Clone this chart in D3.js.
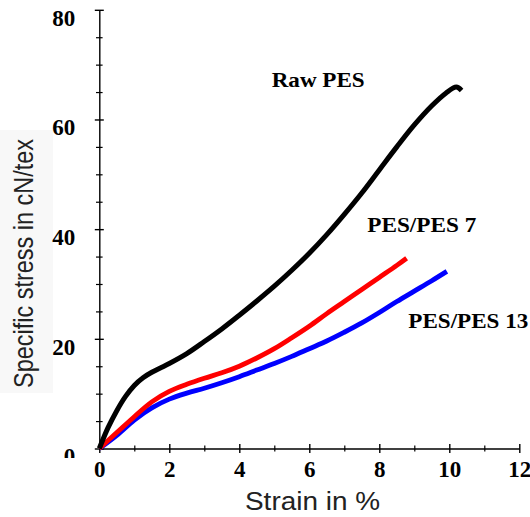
<!DOCTYPE html>
<html>
<head>
<meta charset="utf-8">
<script src="https://cdn.jsdelivr.net/npm/d3@7"></script>
<style>
  html, body { margin: 0; padding: 0; background: #fff; }
  svg { display: block; }
</style>
</head>
<body>
<svg id="chart" width="530" height="517"></svg>
<script>
// ---- data ----
const xMajorTicks = [0, 2, 4, 6, 8, 10, 12];
const xMinorTicks = [1, 3, 5, 7, 9, 11];
const yMajorTicks = [0, 20, 40, 60, 80];
const yMinorTicks = [5, 10, 15, 25, 30, 35, 45, 50, 55, 65, 70, 75];

const seriesNames = ["Raw PES", "PES/PES 7", "PES/PES 13"];

const strainRaw = [0, 0.25, 0.5, 0.75, 1.0, 1.25, 1.5, 2.0, 2.5, 3.0, 3.5, 4.0, 4.5, 5.0, 5.5, 6.0, 6.5, 7.0, 7.5, 8.0, 8.5, 9.0, 9.5, 9.9, 10.2, 10.35];
const stressRaw = [0, 3.8, 6.9, 9.5, 11.5, 12.9, 13.9, 15.5, 17.3, 19.5, 21.8, 24.3, 26.9, 29.6, 32.5, 35.6, 39.0, 42.7, 46.6, 50.8, 55.0, 59.0, 62.5, 64.8, 65.9, 65.3];

const strainPes7 = [0, 0.5, 1.0, 1.5, 2.0, 2.5, 3.0, 3.5, 4.0, 4.5, 5.0, 5.5, 6.0, 6.5, 7.0, 7.5, 8.0, 8.5, 8.78];
const stressPes7 = [0, 2.9, 5.8, 8.5, 10.4, 11.7, 12.8, 13.8, 15.0, 16.5, 18.2, 20.2, 22.3, 24.6, 26.8, 29.0, 31.2, 33.4, 34.7];

const strainPes13 = [0, 0.5, 1.0, 1.5, 2.0, 2.5, 3.0, 3.5, 4.0, 4.5, 5.0, 5.5, 6.0, 6.5, 7.0, 7.5, 8.0, 8.5, 9.0, 9.5, 9.93];
const stressPes13 = [0, 2.4, 5.2, 7.4, 9.0, 10.1, 11.0, 12.0, 13.1, 14.3, 15.5, 16.8, 18.2, 19.6, 21.2, 22.9, 24.8, 26.8, 28.7, 30.6, 32.3];

// ---- chart ----
const svg = d3.select("#chart");
const x = d3.scaleLinear().domain([0, 12]).range([99.3, 519.3]);
const y = d3.scaleLinear().domain([0, 80]).range([448.5, 9.8]);

const serif = "'Liberation Serif', 'Times New Roman', serif";
const sans = "'Liberation Sans', Arial, sans-serif";
const tickFont = 23;

// faint background behind y title
svg.append("rect").attr("x", 0).attr("y", 130).attr("width", 53).attr("height", 263)
  .attr("fill", "#f8f8f8");

const defs = svg.append("defs");
defs.append("clipPath").attr("id", "clipZero")
  .append("rect").attr("x", 40).attr("y", 430).attr("width", 50).attr("height", 28);

// X axis
const gx = svg.append("g").attr("transform", `translate(0,${y(0)})`)
  .call(d3.axisBottom(x).tickValues(xMajorTicks).tickFormat(d3.format("d")).tickSizeOuter(0));
gx.select(".domain").attr("stroke", "#000").attr("stroke-width", 1.4);
gx.selectAll(".tick line").attr("y1", -4.5).attr("y2", 4.5).attr("stroke-width", 1.4);
gx.selectAll(".tick text").attr("y", 28).attr("dy", null)
  .attr("font-family", serif).attr("font-weight", "bold").attr("font-size", tickFont).attr("fill", "#000");

const gxm = svg.append("g").attr("transform", `translate(0,${y(0)})`)
  .call(d3.axisBottom(x).tickValues(xMinorTicks).tickFormat("").tickSizeOuter(0));
gxm.select(".domain").remove();
gxm.selectAll(".tick line").attr("y1", -3).attr("y2", 3).attr("stroke-width", 1.2);

// Y axis
const gy = svg.append("g").attr("transform", `translate(${x(0)},0)`)
  .call(d3.axisLeft(y).tickValues(yMajorTicks).tickFormat(d3.format("d")).tickSizeOuter(0));
gy.select(".domain").attr("stroke", "#000").attr("stroke-width", 1.4);
gy.selectAll(".tick line").attr("x1", -4.5).attr("x2", 4.5).attr("stroke-width", 1.4);
gy.selectAll(".tick text").attr("x", -24).attr("y", 15.5).attr("dy", null)
  .attr("font-family", serif).attr("font-weight", "bold").attr("font-size", tickFont).attr("fill", "#000");

const gym = svg.append("g").attr("transform", `translate(${x(0)},0)`)
  .call(d3.axisLeft(y).tickValues(yMinorTicks).tickFormat("").tickSizeOuter(0));
gym.select(".domain").remove();
gym.selectAll(".tick line").attr("x1", -3.3).attr("x2", 3.3).attr("stroke-width", 1.2);

// the y "0" label is partly hidden in the reference: draw it clipped
const zeroText = gy.selectAll(".tick").filter(d => d === 0).select("text");
const zeroLabel = zeroText.text();
zeroText.remove();
svg.append("g").attr("clip-path", "url(#clipZero)").append("text")
  .attr("x", x(0) - 24).attr("y", y(0) + 15.5)
  .attr("text-anchor", "end")
  .attr("font-family", serif).attr("font-weight", "bold").attr("font-size", tickFont).attr("fill", "#000")
  .text(zeroLabel);

// lines
const line = d3.line().x(d => x(d[0])).y(d => y(d[1])).curve(d3.curveCatmullRom.alpha(0.5));
const series = [
  { name: seriesNames[2], xs: strainPes13, ys: stressPes13, color: "#0000ff", w: 4.8 },
  { name: seriesNames[1], xs: strainPes7, ys: stressPes7, color: "#ff0000", w: 4.8 },
  { name: seriesNames[0], xs: strainRaw, ys: stressRaw, color: "#000000", w: 5 }
];
series.forEach(s => {
  const pts = s.xs.map((v, i) => [v, s.ys[i]]);
  svg.append("path").attr("d", line(pts)).attr("fill", "none")
    .attr("stroke", s.color).attr("stroke-width", s.w)
    .attr("stroke-linejoin", "round").attr("stroke-linecap", "butt");
});

// series labels
const labels = [
  { t: seriesNames[0], x: 271.7, y: 87, len: 93 },
  { t: seriesNames[1], x: 367.3, y: 231.7, len: 109 },
  { t: seriesNames[2], x: 408.3, y: 328, len: 120 }
];
labels.forEach(l => {
  svg.append("text").attr("x", l.x).attr("y", l.y)
    .attr("font-family", serif).attr("font-weight", "bold").attr("font-size", 21.5)
    .attr("textLength", l.len).attr("lengthAdjust", "spacingAndGlyphs")
    .attr("fill", "#000").text(l.t);
});

// axis titles
svg.append("text").attr("x", 312.5).attr("y", 510).attr("text-anchor", "middle")
  .attr("font-family", sans).attr("font-size", 25.5).attr("fill", "#222")
  .attr("textLength", 135).attr("lengthAdjust", "spacingAndGlyphs")
  .text("Strain in %");

svg.append("text")
  .attr("transform", "translate(33,263.5) scale(1.18,1) rotate(-90)")
  .attr("text-anchor", "middle")
  .attr("font-family", sans).attr("font-size", 23.5).attr("fill", "#222")
  .attr("textLength", 249).attr("lengthAdjust", "spacingAndGlyphs")
  .text("Specific stress in cN/tex");
</script>
</body>
</html>
